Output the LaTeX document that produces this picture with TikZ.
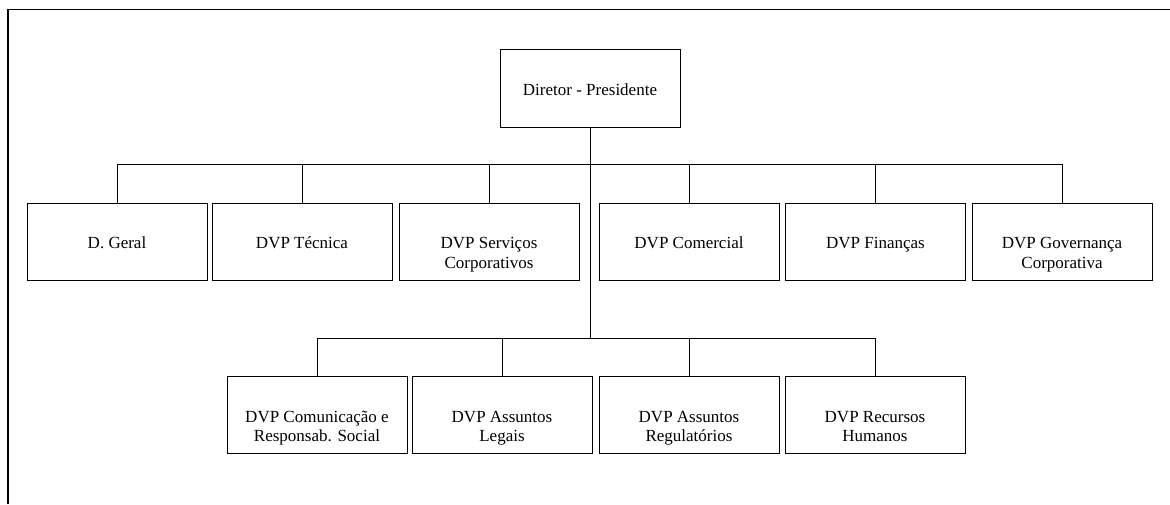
\documentclass[tikz,border=0pt]{standalone}
\usepackage{fontspec}
\setmainfont{Liberation Serif}
\begin{document}
\begin{tikzpicture}[x=1pt,y=-1pt,
  unit/.style={draw, line width=1pt, minimum width=180pt, minimum height=77pt,
    inner sep=0pt},
  caption/.style={anchor=base, inner sep=0pt, align=center,
    font=\fontsize{17}{19.5}\selectfont},
  caption2/.style={caption, yshift=-19.5pt},
  link/.style={line width=1pt},
  frameline/.style={line width=1.4pt}]
\useasboundingbox (0,0) rectangle (1170,504);
% open frame: top and left edges only
\coordinate (fl) at (8,504);
\coordinate (fc) at (8,9.5);
\coordinate (fr) at (1170,9.5);
\draw[frameline] (fl) -- (fc) -- (fr);

% head of the organisation
\node[unit, minimum height=78pt] (top) at (590,88) {};

% first level
\node[unit] (g1) at (117,241.5) {};
\node[unit] (g2) at (302,241.5) {};
\node[unit] (g3) at (489,241.5) {};
\node[unit] (g4) at (689,241.5) {};
\node[unit] (g5) at (875.5,241.5) {};
\node[unit] (g6) at (1062,241.5) {};

% second level
\node[unit] (h1) at (317,415) {};
\node[unit] (h2) at (502,415) {};
\node[unit] (h3) at (689,415) {};
\node[unit] (h4) at (875,415) {};

% captions: first line sits on a baseline just below each box centre
\node[caption] (topt) at ([yshift=-7pt]top.center) {Diretor - Presidente};
\node[caption] (g1t) at ([yshift=-7pt]g1.center) {D. Geral};
\node[caption] (g2t) at ([yshift=-7pt]g2.center) {DVP Técnica};
\node[caption2] (g3t) at ([yshift=-7pt]g3.center) {DVP Serviços\\Corporativos};
\node[caption] (g4t) at ([yshift=-7pt]g4.center) {DVP Comercial};
\node[caption] (g5t) at ([yshift=-7pt]g5.center) {DVP Finanças};
\node[caption2] (g6t) at ([yshift=-7pt]g6.center) {DVP Governança\\Corporativa};
\node[caption2] (h1t) at ([yshift=-7pt]h1.center) {DVP Comunicação e\\Responsab. Social};
\node[caption2] (h2t) at ([yshift=-7pt]h2.center) {DVP Assuntos\\Legais};
\node[caption2] (h3t) at ([yshift=-7pt]h3.center) {DVP Assuntos\\Regulatórios};
\node[caption2] (h4t) at ([yshift=-7pt]h4.center) {DVP Recursos\\Humanos};

% bus lines
\coordinate (busA) at (590,164);
\coordinate (busB) at (590,338);

\draw[link] (top.south) -- (busB);
\draw[link] (g1.north |- busA) -- (g6.north |- busA);
\draw[link] (h1.north |- busB) -- (h4.north |- busB);
\foreach \n in {g1,g2,g3,g4,g5,g6}
  \draw[link] (\n.north) -- (\n.north |- busA);
\foreach \n in {h1,h2,h3,h4}
  \draw[link] (\n.north) -- (\n.north |- busB);
\end{tikzpicture}
\end{document}
